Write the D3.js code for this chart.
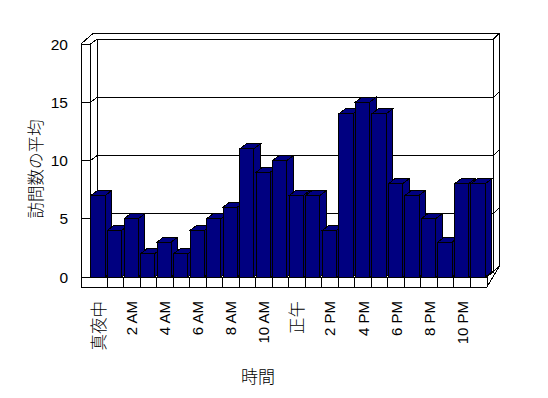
<!DOCTYPE html>
<html>
<head>
<meta charset="utf-8">
<script src="https://cdn.jsdelivr.net/npm/d3@7"></script>
<style>
  body { margin: 0; background: #fff; }
  svg { display: block; }
  text { font-family: "Liberation Sans", Arial, "Noto Sans CJK JP", sans-serif; fill: #000; }
  text.cjk { font-family: "Noto Sans CJK JP", sans-serif; font-weight: 300; }
</style>
</head>
<body>
<svg id="chart" width="548" height="398"></svg>
<script>
// hourly averages
var hourLabels = ["真夜中", "1 AM", "2 AM", "3 AM", "4 AM", "5 AM", "6 AM", "7 AM", "8 AM", "9 AM", "10 AM", "11 AM",
                  "正午", "1 PM", "2 PM", "3 PM", "4 PM", "5 PM", "6 PM", "7 PM", "8 PM", "9 PM", "10 PM", "11 PM"];
var visits = [7, 4, 5, 2, 3, 2, 4, 5, 6, 11, 9, 10, 7, 7, 4, 14, 15, 14, 8, 7, 5, 3, 8, 8];
var yTicks = [0, 5, 10, 15, 20];
var yTitle = "訪問数の平均";
var xTitle = "時間";

var svg = d3.select("#chart");

// plot geometry (front plane)
var left = 90.5, right = 487, floorY = 277, topY = 44;
var dx = 6.5, dy = -5;      // depth of the plot / bars
var tx = 6, ty = -6;        // back wall thickness
var wallW = 9.5, floorH = 10;

var x = d3.scaleBand().domain(d3.range(visits.length)).range([left, right]);
var y = d3.scaleLinear().domain([0, 20]).range([floorY, topY]);

var frame = svg.append("g").attr("shape-rendering", "crispEdges")
  .attr("stroke", "#000").attr("stroke-width", 1);

function poly(g, pts, fill) {
  return g.append("path")
    .attr("d", "M" + pts.map(function (p) { return p[0] + "," + p[1]; }).join("L") + "Z")
    .attr("fill", fill);
}
function line(g, x1, y1, x2, y2) {
  g.append("line").attr("x1", x1).attr("y1", y1).attr("x2", x2).attr("y2", y2);
}

var ol = left - wallW, ob = floorY + floorH;
// outer outline of walls + floor
poly(frame, [[ol, topY], [ol + dx + tx, topY + dy + ty], [right + dx + tx, topY + dy + ty],
             [right + dx + tx, floorY + dy + ty], [right, ob], [ol, ob]], "#fff");

// left wall
line(frame, left, topY, left, floorY);
line(frame, left, topY, left + dx, topY + dy);
// back wall inner face
frame.append("rect").attr("x", left + dx).attr("y", y(20) + dy)
  .attr("width", right - left).attr("height", y(0) - y(20)).attr("fill", "#fff");
line(frame, right + dx, topY + dy, right + dx + tx, topY + dy + ty);
// floor
line(frame, left, floorY, right, floorY);
line(frame, right, floorY, right + dx + tx, floorY + dy + ty);

// gridlines, ticks on the left wall
yTicks.forEach(function (t) {
  var yy = y(t);
  line(frame, ol, yy, left, yy);
  if (t > 0 && t < 20) {
    line(frame, left, yy, left + dx, yy + dy);
    line(frame, left + dx, yy + dy, right + dx, yy + dy);
    line(frame, right + dx, yy + dy, right + dx + tx, yy + dy + ty);
  }
});

// category separators on the floor front
d3.range(1, visits.length + 1).forEach(function (i) {
  var xx = left + i * x.step();
  line(frame, xx, floorY, xx, ob);
});

// bars
var bw = x.bandwidth() * 0.86, boff = x.bandwidth() * 0.03;
var bars = svg.append("g").attr("shape-rendering", "crispEdges")
  .attr("stroke", "#000").attr("stroke-width", 1);
visits.forEach(function (v, i) {
  var x0 = x(i) + boff, x1 = x0 + bw, yv = y(v), y0 = y(0);
  var g = bars.append("g");
  poly(g, [[x1, yv], [x1 + dx, yv + dy], [x1 + dx, y0 + dy], [x1, y0]], "#000080");
  poly(g, [[x0, yv], [x0 + dx, yv + dy], [x1 + dx, yv + dy], [x1, yv]], "#000080");
  poly(g, [[x0, yv], [x1, yv], [x1, y0], [x0, y0]], "#000080");
});

// y tick labels
svg.append("g").selectAll("text").data(yTicks).enter().append("text")
  .attr("x", 68).attr("y", function (d) { return y(d); })
  .attr("dy", "0.36em").attr("text-anchor", "end")
  .attr("font-size", "15.5px").text(function (d) { return d; });

// x labels (every other hour)
svg.append("g").selectAll("text")
  .data(hourLabels.map(function (d, i) { return { label: d, i: i }; })
    .filter(function (d) { return d.i % 2 === 0; }))
  .enter().append("text")
  .attr("class", function (d) { return /[^\x00-\x7f]/.test(d.label) ? "cjk" : null; })
  .attr("transform", function (d) {
    return "translate(" + (x(d.i) + x.bandwidth() / 2) + "," + 301 + ") rotate(-90)";
  })
  .attr("dy", "0.36em").attr("text-anchor", "end")
  .attr("font-size", function (d) { return /[^\x00-\x7f]/.test(d.label) ? "16.5px" : "15px"; })
  .text(function (d) { return d.label; });

// axis titles
svg.append("text").attr("class", "cjk")
  .attr("transform", "translate(36,169) rotate(-90)")
  .attr("dy", "0.36em").attr("text-anchor", "middle")
  .attr("font-size", "16.5px").text(yTitle);

svg.append("text").attr("class", "cjk")
  .attr("x", 258).attr("y", 377).attr("dy", "0.36em")
  .attr("text-anchor", "middle").attr("font-size", "17px").text(xTitle);
</script>
</body>
</html>
